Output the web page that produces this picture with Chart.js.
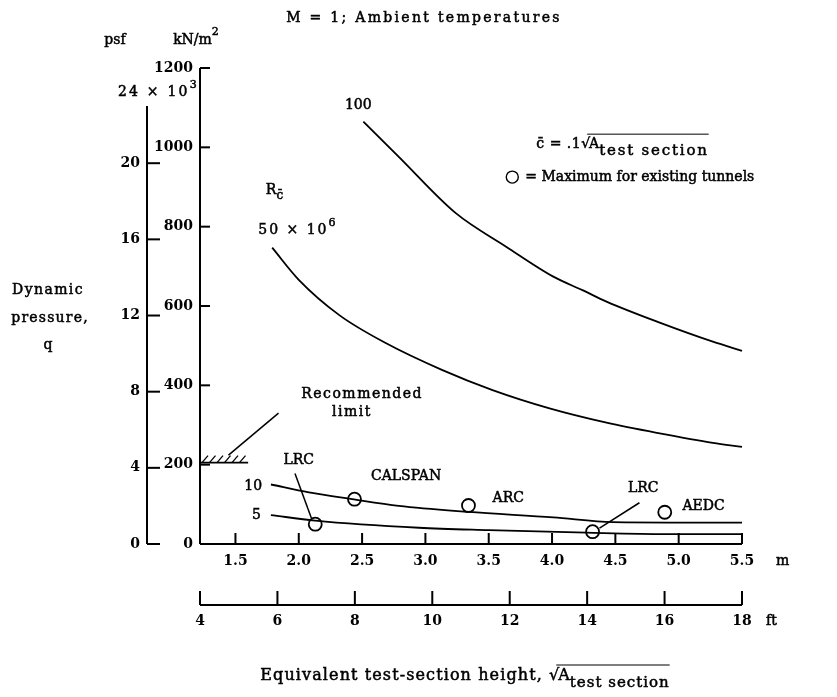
<!DOCTYPE html>
<html>
<head>
<title>Dynamic pressure vs test-section height</title>
<script src="https://cdn.jsdelivr.net/npm/chart.js"></script>
<style>
  body { margin: 0; background: #fff; }
  .chart-container { position: relative; width: 837px; height: 697px; }
</style>
</head>
<body>
<div class="chart-container"><canvas id="qChart"></canvas></div>
<script>
// axis ticks
const mTicks = [1.5, 2.0, 2.5, 3.0, 3.5, 4.0, 4.5, 5.0, 5.5];
const ftTicks = [4, 6, 8, 10, 12, 14, 16, 18];
const kNTicks = [0, 200, 400, 600, 800, 1000, 1200];
const psfTicks = [0, 4, 8, 12, 16, 20, 24];

// constant Reynolds number curves, height (m) vs q (kN/m^2)
const re100H = [2.51, 2.79, 3.24, 3.64, 4.01, 4.24, 4.43, 4.85, 5.27, 5.5];
const re100Q = [1065, 976, 834, 749, 674, 640, 611, 558, 510, 487];
const re50H = [1.79, 2.0, 2.32, 2.69, 3.13, 3.53, 3.98, 4.43, 4.85, 5.27, 5.5];
const re50Q = [747, 666, 577, 506, 439, 388, 342, 306, 279, 255, 245];
const re10H = [1.78, 2.08, 2.42, 2.79, 3.34, 4.01, 4.48, 5.0, 5.5];
const re10Q = [150, 130, 113, 96, 81, 67, 55, 54, 54];
const re5H = [1.78, 2.13, 2.95, 3.5, 4.27, 4.9, 5.5];
const re5Q = [73, 59, 41, 35, 28.5, 25, 25];

// maximum for existing tunnels
const tunnelNames = ["LRC", "CALSPAN", "ARC", "LRC", "AEDC"];
const tunnelH = [2.13, 2.44, 3.34, 4.32, 4.89];
const tunnelQ = [50, 113, 97, 31, 80];

// recommended limit
const limitH = [1.22, 1.6];
const limitQ = [205, 205];

// notes inside the plot, in data units
const notes = [
  { t: "100", h: 2.47, q: 1107, align: "center" },
  { t: "CALSPAN", h: 2.57, q: 170 },
  { t: "ARC", h: 3.53, q: 115 },
  { t: "AEDC", h: 5.03, q: 96 },
  { t: "LRC", h: 2.0, q: 212, align: "center" },
  { t: "LRC", h: 4.72, q: 141, align: "center" },
  { t: "10", h: 1.71, q: 146, align: "right" },
  { t: "5", h: 1.7, q: 71, align: "right" },
  { t: "Recommended", h: 2.5, q: 376, align: "center", ls: 1.5 },
  { t: "limit", h: 2.42, q: 333, align: "center", ls: 1.5 },
];
const leaders = [
  [1.97, 178, 2.1, 65],
  [4.69, 104, 4.375, 40],
  [1.445, 224, 1.84, 330],
];

const FONT = "DejaVu Serif";
const font = (size, bold) => (bold ? "bold " : "") + size + "px '" + FONT + "'";

function pts(xs, ys) {
  return xs.map((x, i) => ({ x: x, y: ys[i] }));
}

function curve(label, xs, ys) {
  return {
    label: label,
    data: pts(xs, ys),
    showLine: true,
    borderColor: "#000",
    borderWidth: 1.8,
    pointRadius: 0,
    cubicInterpolationMode: "monotone",
    clip: false,
  };
}

function line(ctx, x1, y1, x2, y2) {
  ctx.beginPath();
  ctx.moveTo(x1, y1);
  ctx.lineTo(x2, y2);
  ctx.stroke();
}

// draws a run of text pieces (sub/superscripts), returns x of each piece
function rich(ctx, parts, x, y, align) {
  const setup = (p) => {
    ctx.font = font(p.size || 14);
    ctx.letterSpacing = (p.ls || 0) + "px";
  };
  let w = 0;
  parts.forEach((p) => {
    setup(p);
    w += ctx.measureText(p.t).width + (p.gap || 0);
  });
  let cx = align === "center" ? x - w / 2 : align === "right" ? x - w : x;
  const xs = [];
  ctx.lineWidth = 0.5;
  parts.forEach((p) => {
    setup(p);
    xs.push(cx);
    ctx.fillText(p.t, cx, y + (p.dy || 0));
    ctx.strokeText(p.t, cx, y + (p.dy || 0));
    cx += ctx.measureText(p.t).width + (p.gap || 0);
  });
  xs.push(cx);
  ctx.letterSpacing = "0px";
  return xs;
}

const paperPlugin = {
  id: "paper",
  afterDraw(chart) {
    const { ctx } = chart;
    const { x, xft, y, ypsf } = chart.scales;
    const P = (h, q) => [x.getPixelForValue(h), y.getPixelForValue(q)];
    ctx.save();
    ctx.strokeStyle = "#000";
    ctx.fillStyle = "#000";
    ctx.lineWidth = 2;

    // kN/m^2 axis
    const y0 = y.getPixelForValue(0);
    line(ctx, y.right, y0, y.right, y.getPixelForValue(1200));
    kNTicks.forEach((v) => {
      if (v === 0) return;
      const py = y.getPixelForValue(v);
      line(ctx, y.right, py, y.right + 10, py);
    });
    // psf axis
    line(ctx, ypsf.right, ypsf.getPixelForValue(0), ypsf.right, ypsf.getPixelForValue(23));
    psfTicks.forEach((v) => {
      if (v === 24) return;
      const py = ypsf.getPixelForValue(v);
      line(ctx, ypsf.right, py, ypsf.right + 13, py);
    });
    // m axis
    line(ctx, x.left, y0, x.right, y0);
    mTicks.forEach((v) => {
      const p = x.getPixelForValue(v);
      line(ctx, p, y0, p, y0 - 11);
    });
    // ft axis
    const fy = xft.top + 16;
    line(ctx, xft.left, fy, xft.right, fy);
    ftTicks.forEach((v) => {
      const p = xft.getPixelForValue(v);
      line(ctx, p, fy, p, fy - 14);
    });

    // hatch on the recommended limit
    const lim = chart.getDatasetMeta(4).data;
    ctx.lineWidth = 1.3;
    for (let sx = lim[0].x + 2; sx < lim[1].x - 4; sx += 7.5) {
      line(ctx, sx, lim[0].y, sx + 6, lim[0].y - 7);
    }

    // leader lines
    ctx.lineWidth = 1.5;
    leaders.forEach((l) => {
      const a = P(l[0], l[1]);
      const b = P(l[2], l[3]);
      line(ctx, a[0], a[1], b[0], b[1]);
    });

    ctx.textBaseline = "middle";
    ctx.textAlign = "left";
    notes.forEach((n) => {
      const p = P(n.h, n.q);
      rich(ctx, [{ t: n.t, ls: n.ls }], p[0], p[1], n.align || "left");
    });

    // R_c label and 50 x 10^6
    let p = P(1.74, 892);
    rich(ctx, [{ t: "R" }, { t: "c\u0304", size: 12, dy: 6 }], p[0], p[1], "left");
    p = P(1.68, 791);
    rich(ctx, [{ t: "50 \u00d7 10", ls: 2 }, { t: "6", size: 11, dy: -7 }], p[0], p[1], "left");

    // c-bar definition
    p = P(3.876, 1008);
    const cx = rich(ctx, [
      { t: "c\u0304 = .1", ls: 0.5 },
      { t: "\u221a", gap: -1 },
      { t: "A" },
      { t: "test section", size: 15, dy: 7, ls: 1.8 },
    ], p[0], p[1], "left");
    ctx.lineWidth = 1;
    line(ctx, cx[1] + 6, p[1] - 10, cx[4], p[1] - 10);

    // legend symbol
    p = P(3.686, 925);
    ctx.lineWidth = 1.4;
    ctx.beginPath();
    ctx.arc(p[0], p[1], 6, 0, Math.PI * 2);
    ctx.stroke();
    rich(ctx, [{ t: "= Maximum for existing tunnels" }], p[0] + 13, p[1], "left");

    // title and axis captions
    const ca = chart.chartArea;
    rich(ctx, [{ t: "M = 1; Ambient temperatures", ls: 2.3 }], ca.left + 224, 18, "center");
    rich(ctx, [{ t: "psf" }], ypsf.right - 32, 40, "center");
    rich(ctx, [{ t: "kN/m" }, { t: "2", size: 11, dy: -8 }], y.right - 4, 40, "center");
    const p24 = ypsf.getPixelForValue(24) + 5;
    rich(ctx, [{ t: "24 \u00d7 10", ls: 2.2 }, { t: "3", size: 11, dy: -7 }], ypsf.right - 29, p24, "left");
    rich(ctx, [{ t: "Dynamic", ls: 1.4 }], 48, 290, "center");
    rich(ctx, [{ t: "pressure,", ls: 1.2 }], 50, 318, "center");
    rich(ctx, [{ t: "q" }], 48, 345, "center");
    rich(ctx, [{ t: "m" }], x.right + 34, y0 + 17, "left");
    rich(ctx, [{ t: "ft" }], xft.right + 24, fy + 16, "left");

    const tx = rich(ctx, [
      { t: "Equivalent test-section height, ", size: 16, ls: 1.1 },
      { t: "\u221a", size: 16, gap: -1 },
      { t: "A", size: 16 },
      { t: "test section", size: 15, dy: 7, ls: 1 },
    ], (ca.left + ca.right) / 2 - 6, 676, "center");
    ctx.lineWidth = 1;
    line(ctx, tx[2] - 2, 665, tx[4], 665);
    ctx.restore();
  },
};

const tickFont = { family: FONT, size: 14, weight: "bold" };
const setTicks = (list) => (scale) => {
  scale.ticks = list.map((v) => ({ value: v }));
};

new Chart(document.getElementById("qChart"), {
  type: "scatter",
  data: {
    datasets: [
      curve("R = 100 x 10^6", re100H, re100Q),
      curve("R = 50 x 10^6", re50H, re50Q),
      curve("R = 10 x 10^6", re10H, re10Q),
      curve("R = 5 x 10^6", re5H, re5Q),
      {
        label: "Recommended limit",
        data: pts(limitH, limitQ),
        showLine: true,
        borderColor: "#000",
        borderWidth: 1.8,
        pointRadius: 0,
        clip: false,
      },
      {
        label: "Maximum for existing tunnels",
        data: pts(tunnelH, tunnelQ),
        pointRadius: 6.5,
        pointBorderWidth: 1.8,
        pointBorderColor: "#000",
        pointBackgroundColor: "#fff",
      },
      {
        label: "centre",
        data: pts(tunnelH, tunnelQ),
        pointRadius: 1,
        pointBorderWidth: 0,
        pointBackgroundColor: "#000",
      },
    ],
  },
  options: {
    responsive: true,
    maintainAspectRatio: false,
    animation: false,
    layout: { padding: { top: 68, right: 95, bottom: 48, left: 0 } },
    plugins: { legend: { display: false }, tooltip: { enabled: false } },
    scales: {
      x: {
        type: "linear",
        position: "bottom",
        weight: 0,
        min: 1.22,
        max: 5.5,
        afterBuildTicks: setTicks(mTicks),
        afterFit: (s) => { s.height = 45; },
        grid: { display: false, drawTicks: false },
        border: { display: false },
        ticks: { font: tickFont, color: "#000", padding: 9, autoSkip: false, maxRotation: 0,
          callback: (v) => v.toFixed(1) },
      },
      xft: {
        type: "linear",
        position: "bottom",
        weight: 1,
        min: 4,
        max: 18,
        afterBuildTicks: setTicks(ftTicks),
        afterFit: (s) => { s.height = 60; },
        grid: { display: false, drawTicks: false },
        border: { display: false },
        ticks: { font: tickFont, color: "#000", padding: 24, autoSkip: false, maxRotation: 0 },
      },
      y: {
        type: "linear",
        position: "left",
        weight: 0,
        min: 0,
        max: 1200,
        afterBuildTicks: setTicks(kNTicks),
        afterFit: (s) => { s.width = 53; },
        grid: { display: false, drawTicks: false },
        border: { display: false },
        ticks: { font: tickFont, color: "#000", padding: 7, autoSkip: false,
          callback: (v) => String(v) },
      },
      ypsf: {
        type: "linear",
        position: "left",
        weight: 1,
        min: 0,
        max: 25,
        afterBuildTicks: setTicks(psfTicks),
        afterFit: (s) => { s.width = 147; },
        grid: { display: false, drawTicks: false },
        border: { display: false },
        ticks: { font: tickFont, color: "#000", padding: 7, autoSkip: false,
          callback: (v) => (v === 24 ? "" : String(v)) },
      },
    },
  },
  plugins: [paperPlugin],
});
</script>
</body>
</html>
